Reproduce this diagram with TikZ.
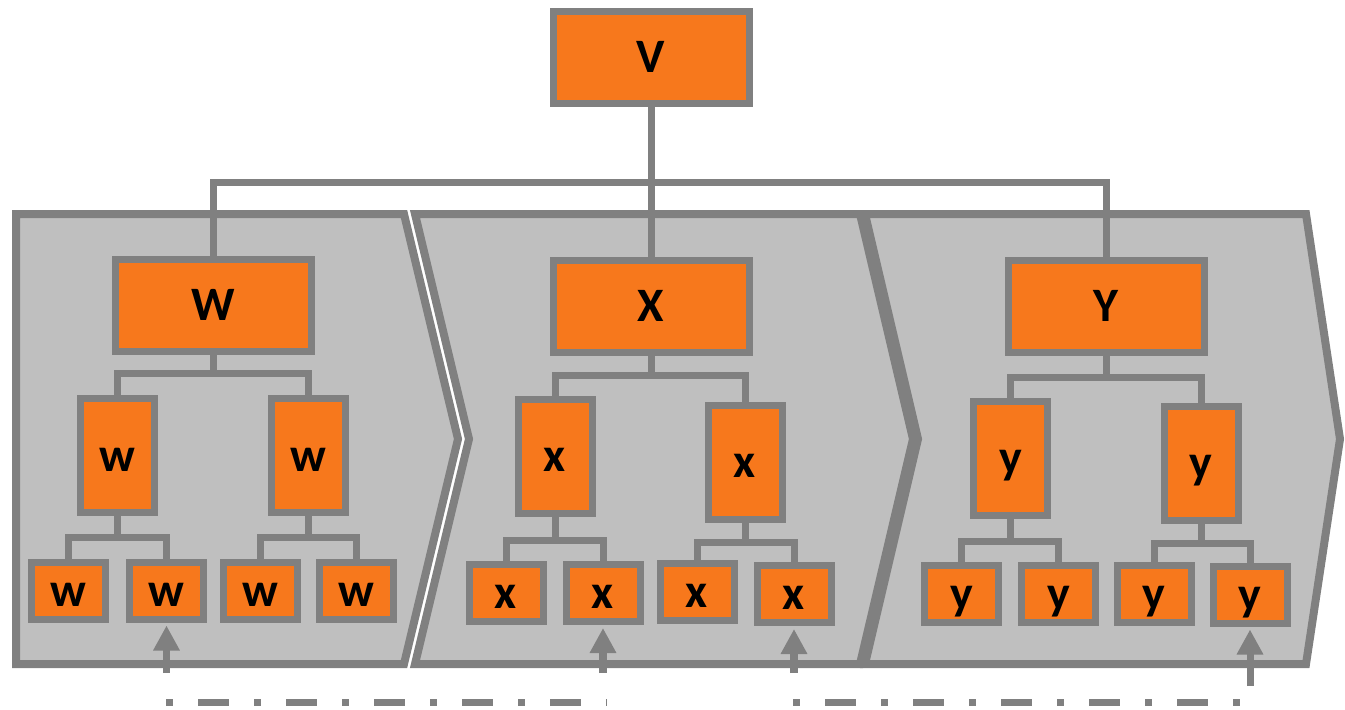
\documentclass[tikz,border=0pt]{standalone}
\usepackage{fontspec}
\setmainfont{Carlito}
\usetikzlibrary{arrows.meta}
\definecolor{org}{RGB}{247,120,28}
\definecolor{gr}{RGB}{128,128,128}
\definecolor{lg}{RGB}{191,191,191}
\tikzset{
  box/.style={draw=gr, fill=org, line width=7pt, inner sep=0pt,
    text height=31pt, text depth=0pt,
    font=\fontsize{48}{52}\selectfont\bfseries},
  bigbox/.style={box, minimum width=196pt, minimum height=92pt},
  midbox/.style={box, minimum width=74pt, minimum height=114pt},
  leafbox/.style={box, minimum width=74pt, minimum height=57pt},
  conn/.style={draw=gr, line width=7pt},
  chev/.style={draw=gr, fill=lg, line width=8pt, line join=miter},
  arr/.style={draw=gr, line width=7.5pt, -{Triangle[width=25pt,length=25pt,fill=gr]}, shorten >=3pt},
  dashdot/.style={draw=gr, line width=7pt, dash pattern=on 7pt off 25pt on 31pt off 25pt}
}
\begin{document}
\begin{tikzpicture}[x=1pt,y=-1pt]
\useasboundingbox (0,0) rectangle (1345,710);
% chevrons
\draw[chev] (16,214) -- (404,214) -- (458,439) -- (404,664) -- (16,664) -- cycle;
\draw[chev] (415,214) -- (860,214) -- (913,439) -- (860,664) -- (415,664) -- (469,439) -- cycle;
\draw[chev] (865,214) -- (1306,214) -- (1340,439) -- (1306,664) -- (865,664) -- (918,439) -- cycle;
% top level
\node[bigbox] (V) at (651,57) {V};
\node[bigbox] (W) at (213,305) {W};
\node[bigbox] (X) at (651,306) {X};
\node[bigbox] (Y) at (1106,306) {Y};
% mid level
\node[midbox] (w1) at (117.5,455.5) {w};
\node[midbox] (w2) at (308,455.5) {w};
\node[midbox] (x1) at (555,456) {x};
\node[midbox] (x2) at (745,462) {x};
\node[midbox] (y1) at (1010.5,458) {y};
\node[midbox] (y2) at (1201,463) {y};
% leaves
\node[leafbox] (wa) at (68.5,590.5) {w};
\node[leafbox] (wb) at (166.5,590.5) {w};
\node[leafbox] (wc) at (260,590.5) {w};
\node[leafbox] (wd) at (356,590.5) {w};
\node[leafbox] (xa) at (506,593) {x};
\node[leafbox] (xb) at (603,593) {x};
\node[leafbox] (xc) at (697,592) {x};
\node[leafbox] (xd) at (794,594) {x};
\node[leafbox] (ya) at (961.5,594) {y};
\node[leafbox] (yb) at (1058.5,594) {y};
\node[leafbox] (yc) at (1154,594) {y};
\node[leafbox] (yd) at (1250,594.5) {y};
% connectors
\draw[conn] (V.south) -- (X.north);
\draw[conn] (W.north) -- (W.north |- 0,182) -- (Y.north |- 0,182) -- (Y.north);
\foreach \p/\a/\b/\h in {W/w1/w2/373, X/x1/x2/375, Y/y1/y2/377,
    w1/wa/wb/537, w2/wc/wd/537, x1/xa/xb/540, x2/xc/xd/542,
    y1/ya/yb/541, y2/yc/yd/543}
  \draw[conn] (\p.south) -- (\p.south |- 0,\h)
              (\a.north) |- (\p.south |- 0,\h) -| (\b.north);
% arrows
\coordinate (t1) at (166.5,673);
\coordinate (t2) at (603,673);
\coordinate (t3) at (794,673);
\coordinate (t4) at (1250,686);
\coordinate (t4h) at (1250,650);
\draw[arr] (t1) -- (wb.south);
\draw[arr] (t2) -- (xb.south);
\draw[arr] (t3) -- (xd.south);
\draw[conn] (t4) -- (1250,654);
\draw[arr] (t4h) -- (yd.south);
% dash-dot lines
\coordinate (d1) at (166,702);
\coordinate (d2) at (607,702);
\coordinate (d3) at (793,702);
\coordinate (d4) at (1248,702);
\draw[dashdot] (d1) -- (d2);
\draw[dashdot] (d3) -- (d4);
\end{tikzpicture}
\end{document}
